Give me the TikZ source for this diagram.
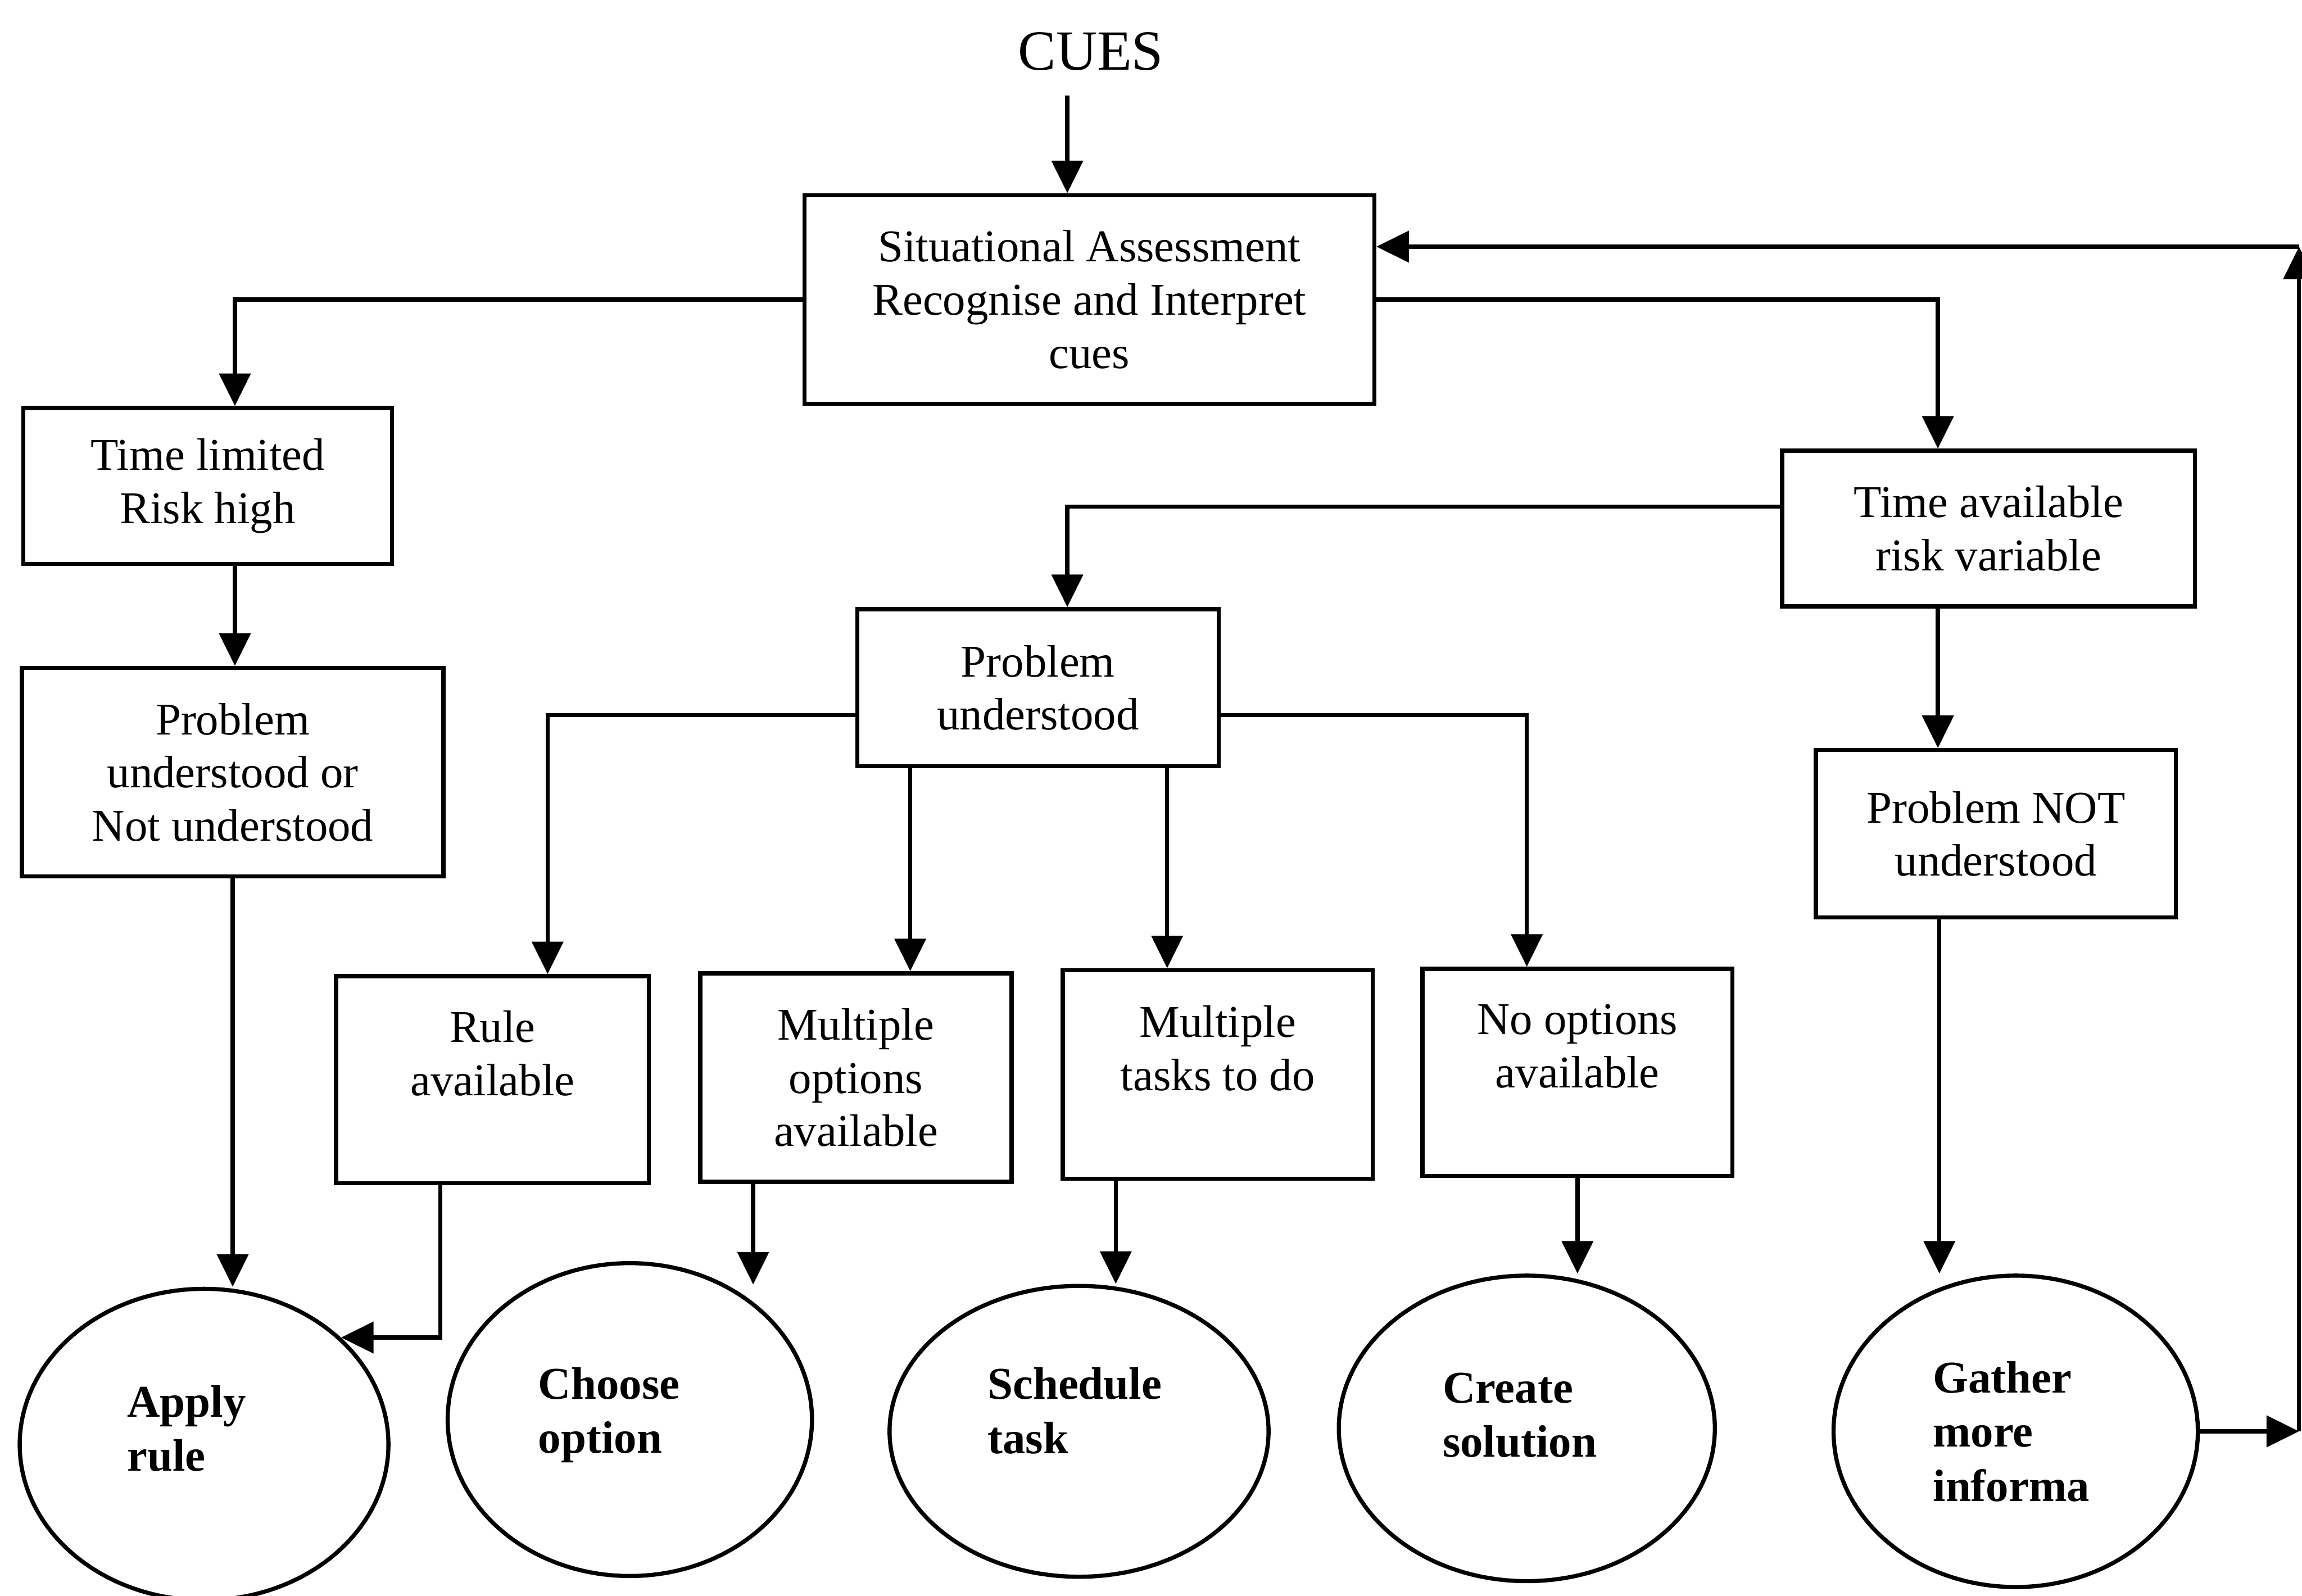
\documentclass[tikz,border=0pt]{standalone}
\usepackage{fontspec}
\setmainfont{Liberation Serif}
\usetikzlibrary{arrows.meta,shapes.geometric,calc}
\begin{document}
\begin{tikzpicture}[x=0.01cm,y=-0.01cm,
  every node/.style={font=\fontsize{8.8}{10.3}\selectfont},
  box/.style={draw,line width=0.8pt,align=center,inner sep=0pt},
  oval/.style={draw,ellipse,line width=0.8pt,inner sep=0pt},
  otext/.style={font=\fontsize{8.8}{10.5}\selectfont\bfseries,align=left,anchor=west,inner sep=0pt},
  arr/.style={line width=0.8pt,-{Triangle[length=6.3pt,width=6pt]}}]
\useasboundingbox (0,0) rectangle (1568,1087);

% top: cues and situational assessment
\node[font=\fontsize{11}{13}\selectfont] (cues) at (743,35) {CUES};
\node[box,minimum width=3.88cm,minimum height=1.42cm] (sa) at (742,204)
  {Situational Assessment\\Recognise and Interpret\\cues};

% left branch
\node[box,minimum width=2.51cm,minimum height=1.06cm] (tl) at (141.5,331) {Time limited\\Risk high};
\node[box,minimum width=2.87cm,minimum height=1.42cm] (puor) at (158.5,526)
  {Problem\\understood or\\Not understood};

% right branch
\node[box,minimum width=2.81cm,minimum height=1.06cm] (ta) at (1354.5,360) {Time available\\risk variable};
\node[box,minimum width=2.46cm,minimum height=1.07cm] (pu) at (707,468.5) {Problem\\understood};
\node[box,minimum width=2.45cm,minimum height=1.14cm] (pnot) at (1359.5,568) {Problem NOT\\understood};

% situation types
\node[box,minimum width=2.13cm,minimum height=1.41cm] (rule) at (335.5,735.5) {Rule\\available\\~};
\node[box,minimum width=2.12cm,minimum height=1.42cm] (mo) at (583,734) {Multiple\\options\\available};
\node[box,minimum width=2.11cm,minimum height=1.42cm] (mt) at (829.5,732) {Multiple\\tasks to do\\~};
\node[box,minimum width=2.11cm,minimum height=1.41cm] (no) at (1074.5,730.5) {No options\\available\\~};

% decision outcomes
\node[oval,minimum width=2.51cm,minimum height=2.12cm] (apply) at (139,984) {};
\node[oval,minimum width=2.48cm,minimum height=2.13cm] (choose) at (429,967) {};
\node[oval,minimum width=2.58cm,minimum height=1.98cm] (sched) at (735,975) {};
\node[oval,minimum width=2.56cm,minimum height=2.08cm] (create) at (1040,973) {};
\node[oval,minimum width=2.48cm,minimum height=2.12cm] (gather) at (1373,975) {};
\node[otext] (applyT) at (86,973) {Apply\\rule};
\node[otext] (chooseT) at (366,964) {Choose\\option};
\node[otext] (schedT) at (672,961) {Schedule\\task};
\node[otext] (createT) at (982,964) {Create\\solution};
\node[otext] (gatherT) at (1316,975) {Gather\\more\\informa};

% connector columns and rows
\coordinate (c0) at (727,65);
\coordinate (x160) at (160,0);
\coordinate (x1320) at (1320,0);
\coordinate (x1321) at (1321,0);
\coordinate (x727) at (727,0);
\coordinate (x373) at (373,0);
\coordinate (x620) at (620,0);
\coordinate (x795) at (795,0);
\coordinate (x1040) at (1040,0);
\coordinate (x300) at (300,0);
\coordinate (x513) at (513,0);
\coordinate (x760) at (760,0);
\coordinate (xR) at (1566,0);
\coordinate (y345) at (0,345);
\coordinate (y487) at (0,487);
\coordinate (y168) at (0,168);
\coordinate (tipmo) at (513,875);

% connectors
\draw[arr] (c0) -- (c0 |- sa.north);
\draw[arr] (sa.west) -| (x160 |- tl.north);
\draw[arr] (x160 |- tl.south) -- (x160 |- puor.north);
\draw[arr] (puor.south) -- (puor.south |- apply.north);
\draw[arr] (sa.east) -| (x1320 |- ta.north);
\draw[arr] (ta.west |- y345) -| (x727 |- pu.north);
\draw[arr] (x1320 |- ta.south) -- (x1320 |- pnot.north);
\draw[arr] (x1321 |- pnot.south) -- (x1321 |- gather.north);
\draw[arr] (pu.west |- y487) -| (x373 |- rule.north);
\draw[arr] (x620 |- pu.south) -- (x620 |- mo.north);
\draw[arr] (x795 |- pu.south) -- (x795 |- mt.north);
\draw[arr] (pu.east |- y487) -| (x1040 |- no.north);
\draw[arr] (x300 |- rule.south) |- (apply.38);
\draw[arr] (x513 |- mo.south) -- (tipmo);
\draw[arr] (x760 |- mt.south) -- (x760 |- sched.north);
\draw[arr] (no.south) -- (no.south |- create.north);

% feedback loop
\draw[arr] (gather.east) -- (xR |- gather.east);
\draw[arr] (xR |- gather.east) -- (xR |- y168);
\draw[arr] (xR |- y168) -- (sa.east |- y168);
\end{tikzpicture}
\end{document}
